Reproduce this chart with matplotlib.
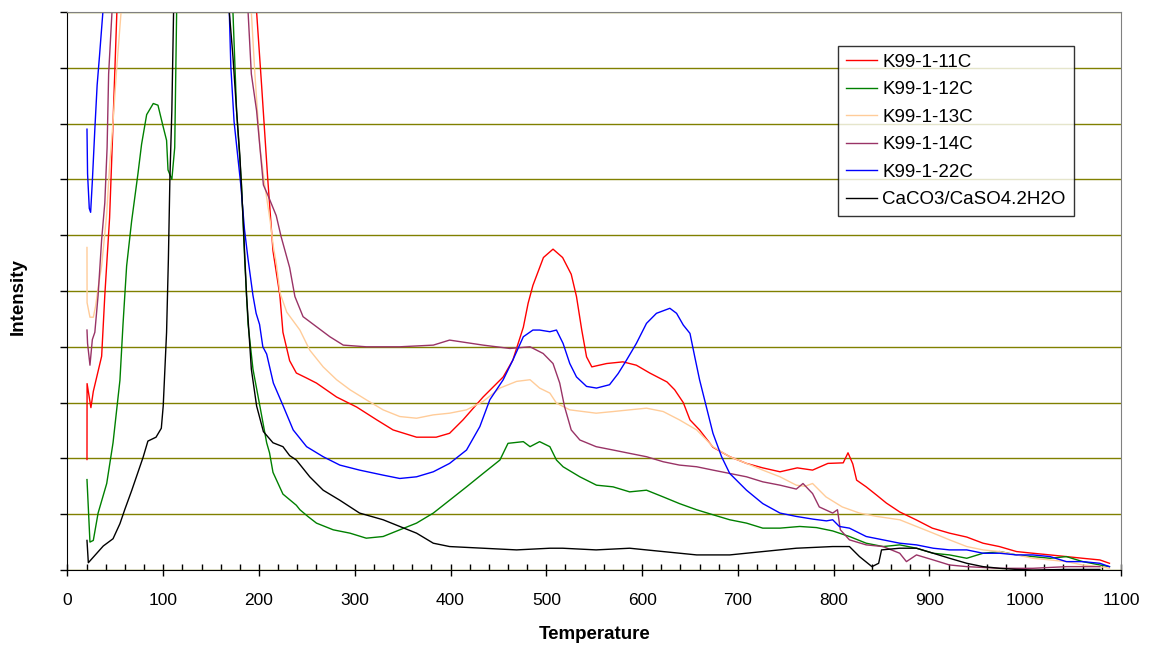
import matplotlib
matplotlib.use("Agg")
import matplotlib.pyplot as plt
from matplotlib.ticker import MultipleLocator, NullFormatter

plt.rcParams['font.family'] = ['Liberation Sans', 'DejaVu Sans']

# (temperature, intensity); 12 = off the top of the scale
k99_11c = [(20.4, 1.98), (20.5, 3.34), (24.5, 2.91), (27, 3.2), (35.7, 3.83), (39, 4.92),
           (44, 6.31), (47.5, 7.96), (51.6, 10.0), (56, 12), (193, 12), (197.5, 10.0),
           (202.7, 8.69), (209, 7.04), (214.6, 5.72), (221.8, 4.92), (225, 4.26), (232, 3.75),
           (239, 3.53), (249.7, 3.44), (260, 3.35), (281, 3.1), (302, 2.92), (323, 2.69),
           (340, 2.51), (364.5, 2.38), (385, 2.38), (399, 2.45), (413, 2.69), (434, 3.1),
           (455, 3.46), (465, 3.76), (476, 4.35), (481, 4.78), (486, 5.1), (497, 5.6),
           (507, 5.75), (517, 5.6), (526, 5.3), (531.5, 4.9), (537, 4.3), (542, 3.82),
           (547.5, 3.64), (563, 3.7), (580, 3.73), (594, 3.67), (608, 3.53), (626, 3.37),
           (634, 3.23), (643, 3.0), (650, 2.69), (660, 2.51), (674, 2.2), (691.6, 2.03),
           (709, 1.91), (726, 1.83), (744, 1.76), (762, 1.83), (778, 1.79), (794, 1.91),
           (810, 1.92), (815, 2.1), (820, 1.9), (824, 1.61), (834, 1.49), (845, 1.34),
           (855, 1.2), (869, 1.04), (886, 0.9), (903, 0.75), (921, 0.66), (939, 0.59),
           (956, 0.48), (973, 0.42), (991, 0.33), (1008, 0.3), (1026, 0.27), (1043, 0.24),
           (1060, 0.21), (1078, 0.18), (1088, 0.12)]

k99_12c = [(20.4, 1.62), (23.5, 0.5), (27, 0.53), (32, 1.02), (41, 1.55), (47.6, 2.28),
           (54.8, 3.4), (58, 4.4), (61.8, 5.45), (67, 6.25), (73.6, 7.1), (77.4, 7.63),
           (82.7, 8.16), (89.6, 8.36), (94.5, 8.33), (99.7, 7.96), (103.5, 7.7), (105, 7.17),
           (109, 7.0), (112, 7.57), (114, 10), (116, 12), (171, 12), (172.8, 10),
           (176.6, 8.23), (181.8, 6.9), (185, 5.58), (188.6, 4.4), (193.7, 3.6), (200.9, 2.94),
           (208, 2.28), (211, 2.1), (214.6, 1.75), (225, 1.36), (239, 1.16), (242.7, 1.08),
           (251, 0.96), (260, 0.84), (277.5, 0.72), (295, 0.66), (312, 0.57), (329.6, 0.6),
           (347, 0.72), (364.5, 0.84), (382, 1.02), (399, 1.25), (416.7, 1.49), (434, 1.73),
           (451.5, 1.97), (460, 2.27), (476, 2.3), (483, 2.21), (493, 2.3), (503.7, 2.21),
           (510.6, 1.97), (517.5, 1.85), (535, 1.67), (552.4, 1.52), (569.7, 1.49), (587, 1.4),
           (604.6, 1.43), (622, 1.31), (639, 1.19), (656.8, 1.08), (674, 0.99), (691.5, 0.9),
           (709, 0.84), (726, 0.75), (744, 0.75), (764.6, 0.78), (782, 0.76), (799, 0.7),
           (816.5, 0.6), (834, 0.48), (851.6, 0.42), (869, 0.45), (886.5, 0.39), (903.8, 0.3),
           (921, 0.27), (939, 0.21), (956, 0.3), (973.5, 0.33), (991, 0.27), (1008, 0.24),
           (1026, 0.21), (1043, 0.24), (1060, 0.15), (1078, 0.09), (1088, 0.06)]

k99_13c = [(20.4, 5.78), (20.5, 4.79), (23.5, 4.53), (27, 4.53), (29.4, 4.73), (32, 5.06),
           (35.7, 5.45), (41, 6.38), (44, 7.24), (47.6, 8.03), (51, 8.89), (56, 10), (59, 12),
           (189, 12), (192, 10), (195.7, 8.89), (201, 7.57), (206, 6.9), (211.7, 6.25),
           (215, 5.79), (218, 5.5), (222, 4.96), (229, 4.62), (242.7, 4.3), (253, 3.94),
           (267, 3.64), (281, 3.41), (295, 3.23), (312, 3.05), (329.6, 2.87), (347, 2.75),
           (364.5, 2.72), (382, 2.78), (399, 2.81), (416.7, 2.87), (434, 3.02), (451.5, 3.26),
           (469, 3.38), (483, 3.41), (493, 3.26), (503.7, 3.17), (510.6, 2.99), (524.5, 2.87),
           (552, 2.81), (570, 2.84), (587, 2.87), (604.6, 2.9), (622, 2.84), (639, 2.69),
           (657, 2.51), (674, 2.21), (691.5, 2.03), (709, 1.91), (726, 1.79), (744, 1.67),
           (761, 1.52), (770, 1.5), (778, 1.55), (792, 1.31), (809, 1.13), (827, 1.02),
           (845, 0.96), (869, 0.9), (886.5, 0.78), (904, 0.66), (921, 0.54), (939, 0.42),
           (956, 0.36), (973.5, 0.33), (991, 0.27), (1008, 0.21), (1026, 0.18), (1043, 0.15),
           (1060, 0.09), (1078, 0.06), (1088, 0.03)]

k99_14c = [(20.4, 4.3), (21, 4.06), (23.5, 3.67), (26, 4.13), (28.6, 4.26), (32, 4.92),
           (35.7, 5.92), (39, 6.58), (41.4, 7.57), (43, 8.89), (46.5, 10), (49, 12), (186, 12),
           (188.6, 10), (192, 8.89), (197.5, 8.23), (201, 7.57), (204.6, 6.9), (209.7, 6.7),
           (218, 6.35), (223, 5.98), (232, 5.42), (237.5, 4.9), (246, 4.54), (260, 4.36),
           (274, 4.18), (288, 4.03), (312, 4.0), (347, 4.0), (382, 4.03), (399, 4.12),
           (434, 4.03), (462, 3.97), (483, 4.0), (496.7, 3.88), (507, 3.7), (514, 3.35),
           (519, 2.93), (526, 2.51), (535, 2.33), (552, 2.21), (569.7, 2.15), (587, 2.09),
           (604.6, 2.03), (622, 1.94), (639, 1.88), (657, 1.85), (674, 1.79), (691.5, 1.73),
           (709, 1.67), (726, 1.58), (744, 1.52), (761, 1.45), (768, 1.55), (778, 1.37),
           (785, 1.13), (799, 1.02), (804, 1.08), (807, 0.72), (816.5, 0.54), (834, 0.45),
           (851.6, 0.42), (869, 0.3), (876, 0.15), (886.5, 0.27), (904, 0.18), (921, 0.09),
           (939, 0.06), (973.5, 0.03), (1008, 0.03), (1043, 0.06), (1078, 0.06)]

k99_22c = [(20.4, 7.9), (21, 7.1), (22.8, 6.48), (24.2, 6.41), (26, 6.97), (28.6, 7.9),
           (31, 8.69), (33.5, 9.22), (37, 10), (40, 12), (167, 12), (169, 10), (170.6, 9.02),
           (174, 8.03), (181, 6.9), (184.8, 6.11), (188.5, 5.58), (193.7, 4.92), (197, 4.6),
           (200.6, 4.4), (204, 4.0), (208, 3.87), (215, 3.35), (225, 2.95), (235.7, 2.51),
           (249.7, 2.21), (267, 2.03), (284.4, 1.88), (305, 1.79), (329.6, 1.7), (347, 1.64),
           (364.5, 1.67), (382, 1.76), (399, 1.91), (416.7, 2.15), (430.6, 2.57), (441, 3.05),
           (455, 3.41), (465, 3.76), (476, 4.18), (486, 4.3), (493, 4.3), (503.7, 4.27),
           (510.6, 4.3), (517.5, 4.06), (524.5, 3.7), (531.5, 3.46), (542, 3.29), (552.4, 3.26),
           (566, 3.32), (575, 3.52), (583.7, 3.76), (594, 4.06), (604.6, 4.42), (615, 4.6),
           (629, 4.69), (636, 4.6), (643, 4.39), (650, 4.24), (655, 3.82), (660, 3.41),
           (667, 2.93), (674, 2.45), (683, 2.03), (691.5, 1.73), (709, 1.43), (726, 1.19),
           (744, 1.02), (761, 0.96), (779, 0.91), (792.5, 0.88), (799, 0.9), (806, 0.78),
           (816.5, 0.75), (834, 0.6), (851.6, 0.54), (869, 0.48), (886.5, 0.45), (904, 0.39),
           (921, 0.36), (939, 0.36), (956, 0.3), (973.5, 0.3), (991, 0.27), (1008, 0.27),
           (1026, 0.24), (1043, 0.15), (1060, 0.15), (1078, 0.12), (1088, 0.06)]

caco3 = [(20.4, 0.53), (21.8, 0.13), (27, 0.23), (37.4, 0.43), (47.6, 0.56), (54.8, 0.83),
         (60, 1.09), (67, 1.42), (73.6, 1.75), (79, 2.02), (84, 2.31), (92.5, 2.38), (98, 2.54),
         (100, 2.94), (103.5, 4.26), (105.4, 5.58), (107, 7.04), (109, 8.23), (110.8, 10),
         (112, 12), (167, 12), (169, 10), (172.8, 9.2), (176.6, 8.23), (180, 7.43),
         (183.5, 6.25), (187, 4.92), (192, 3.6), (197.5, 2.94), (204.6, 2.48), (214.6, 2.28),
         (225, 2.21), (232, 2.05), (239, 1.97), (253, 1.67), (267, 1.43), (284.4, 1.25),
         (305, 1.02), (329.6, 0.9), (347, 0.78), (364.5, 0.66), (382, 0.48), (399, 0.42),
         (434, 0.39), (469, 0.36), (503.7, 0.39), (517, 0.39), (552, 0.36), (587, 0.39),
         (622, 0.33), (657, 0.27), (691.5, 0.27), (726, 0.33), (761, 0.39), (799, 0.42),
         (816.5, 0.42), (827, 0.24), (840, 0.06), (847, 0.12), (850, 0.36), (869, 0.39),
         (886.5, 0.39), (904, 0.3), (921, 0.21), (939, 0.12), (956, 0.06), (973.5, 0.03),
         (991, 0.01), (1008, 0.0), (1043, 0.01), (1078, 0.01)]

labels = ["K99-1-11C", "K99-1-12C", "K99-1-13C", "K99-1-14C", "K99-1-22C", "CaCO3/CaSO4.2H2O"]
colors = ["#ff0000", "#008000", "#ffcc99", "#993366", "#0000ff", "#000000"]
series = [k99_11c, k99_12c, k99_13c, k99_14c, k99_22c, caco3]

fig = plt.figure(figsize=(11.51, 6.45), dpi=100)
ax = fig.add_axes([0.0586, 0.1163, 0.9153, 0.8651])

for data, lab, col in zip(series, labels, colors):
    t = [p[0] for p in data]
    v = [p[1] for p in data]
    ax.plot(t, v, color=col, lw=1.0, label=lab)

ax.set_xlim(0, 1100)
ax.set_ylim(0, 10)
ax.set_xticks(range(0, 1101, 100))
ax.xaxis.set_minor_locator(MultipleLocator(20))
ax.set_yticks(range(0, 11))
ax.yaxis.set_major_formatter(NullFormatter())
ax.tick_params(axis='x', which='major', direction='inout', length=9, width=1,
               labelsize=12.5, pad=12)
ax.tick_params(axis='x', which='minor', direction='in', length=4, width=1)
ax.tick_params(axis='y', which='major', direction='out', length=5, width=1)

ax.set_axisbelow(True)
ax.yaxis.grid(True, color='#808000', lw=1)
ax.spines['top'].set_color('#808080')
ax.spines['right'].set_color('#808080')

ax.set_xlabel("Temperature", fontsize=13.5, fontweight='bold')
ax.set_ylabel("Intensity", fontsize=13.5, fontweight='bold')
ax.xaxis.set_label_coords(0.5, -0.1)
ax.yaxis.set_label_coords(-0.039, 0.49)

leg = ax.legend(loc='upper left', bbox_to_anchor=(838 / 1151, 1 - 46 / 645),
                bbox_transform=fig.transFigure, fontsize=13.5, frameon=True, fancybox=False,
                handlelength=1.65, handletextpad=0.3, labelspacing=0.55, borderpad=0.42,
                borderaxespad=0)
leg.get_frame().set_edgecolor('black')
leg.get_frame().set_linewidth(1)

fig.savefig("out.png", dpi=100)
